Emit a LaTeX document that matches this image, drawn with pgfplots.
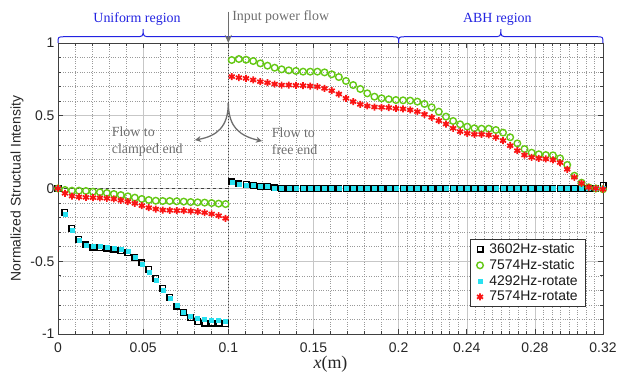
\documentclass[border=0pt]{standalone}
\usepackage{fontspec}
\setmainfont{Liberation Serif}
\setsansfont{Liberation Sans}
\usepackage{pgfplots}
\pgfplotsset{compat=1.18}
\usepackage{pgfplotstable}
\usetikzlibrary{arrows.meta}
\definecolor{cgreen}{RGB}{100,200,20}
\definecolor{ccyan}{RGB}{40,225,240}
\definecolor{cred}{RGB}{250,20,20}
\definecolor{cblue}{RGB}{35,35,225}
\definecolor{cgray}{RGB}{110,110,110}

\pgfplotstableread{
x a b c d
0.0000 0.000 0.000 0.000 0.000
0.0041 -0.164 -0.010 -0.178 -0.033
0.0082 -0.274 -0.015 -0.285 -0.052
0.0123 -0.349 -0.015 -0.354 -0.058
0.0164 -0.388 -0.017 -0.388 -0.061
0.0205 -0.404 -0.022 -0.400 -0.063
0.0246 -0.407 -0.026 -0.400 -0.065
0.0287 -0.411 -0.031 -0.404 -0.068
0.0328 -0.416 -0.038 -0.407 -0.072
0.0369 -0.427 -0.045 -0.416 -0.081
0.0410 -0.441 -0.054 -0.434 -0.090
0.0451 -0.473 -0.063 -0.475 -0.102
0.0492 -0.510 -0.072 -0.519 -0.118
0.0533 -0.556 -0.079 -0.572 -0.132
0.0574 -0.617 -0.084 -0.633 -0.141
0.0615 -0.686 -0.086 -0.698 -0.148
0.0656 -0.748 -0.086 -0.755 -0.150
0.0697 -0.808 -0.088 -0.805 -0.152
0.0738 -0.854 -0.090 -0.847 -0.152
0.0779 -0.888 -0.093 -0.876 -0.155
0.0820 -0.915 -0.095 -0.892 -0.159
0.0861 -0.927 -0.097 -0.899 -0.166
0.0902 -0.927 -0.100 -0.904 -0.175
0.0943 -0.927 -0.104 -0.904 -0.187
0.0984 -0.931 -0.107 -0.915 -0.205
}\tabL

\pgfplotstableread{
x a b c d
0.1020 0.045 0.883 0.042 0.769
0.1062 0.033 0.890 0.031 0.762
0.1104 0.027 0.885 0.026 0.757
0.1146 0.022 0.876 0.022 0.746
0.1188 0.017 0.860 0.017 0.734
0.1230 0.012 0.844 0.013 0.727
0.1272 0.005 0.830 0.003 0.718
0.1313 0.002 0.819 0.001 0.711
0.1355 0 0.812 0 0.711
0.1397 0 0.808 0 0.709
0.1439 0 0.803 0 0.707
0.1481 0 0.803 0 0.704
0.1523 0 0.803 0 0.700
0.1565 0 0.798 0 0.688
0.1607 0 0.785 0 0.672
0.1649 0 0.766 0 0.649
0.1691 0 0.739 0 0.620
0.1733 0 0.711 0 0.597
0.1775 0 0.684 0 0.578
0.1816 0 0.654 0 0.567
0.1858 0 0.631 0 0.560
0.1900 0 0.620 0 0.558
0.1942 0 0.613 0 0.556
0.1984 0 0.608 0 0.550
0.2026 0 0.606 0 0.547
0.2068 0 0.604 0 0.540
0.2110 0 0.597 0 0.528
0.2152 0 0.581 0 0.510
0.2194 0 0.558 0 0.489
0.2236 0 0.528 0 0.466
0.2278 0 0.494 0 0.443
0.2320 0 0.464 0 0.414
0.2361 0 0.441 0 0.391
0.2403 0 0.425 0 0.379
0.2445 0 0.414 0 0.372
0.2487 0 0.411 0 0.372
0.2529 0 0.411 0 0.368
0.2571 0 0.402 0 0.352
0.2613 0 0.384 0 0.329
0.2655 0 0.352 0 0.294
0.2697 0 0.310 0 0.260
0.2739 0 0.271 0 0.230
0.2781 0 0.246 0 0.214
0.2823 0 0.235 0 0.207
0.2864 0 0.230 0 0.203
0.2906 0 0.228 0 0.196
0.2948 0 0.207 0 0.178
0.2990 0 0.162 0 0.132
0.3032 0 0.088 0 0.077
0.3074 0 0.040 0 0.036
0.3116 0 0.008 0 0.008
0.3158 0 0.000 0 0.001
0.3200 0.020 -0.005 0 -0.005
}\tabR

\begin{document}
\begin{tikzpicture}
\begin{axis}[
  width=545bp, height=291bp, scale only axis,
  xmin=0, xmax=0.32, ymin=-1, ymax=1,
  xtick={0,0.05,0.1,0.15,0.2,0.24,0.28,0.32},
  xticklabels={0,0.05,0.1,0.15,0.2,0.24,0.28,0.32},
  ytick={-1,-0.5,0,0.5,1},
  yticklabels={-1,-0.5,0,0.5,1},
  minor xtick={0.01,0.02,0.03,0.04,0.06,0.07,0.08,0.09,0.11,0.12,0.13,0.14,0.16,0.17,0.18,0.19,0.205,0.21,0.215,0.22,0.225,0.23,0.235,0.245,0.25,0.255,0.26,0.265,0.27,0.275,0.285,0.29,0.295,0.3,0.305,0.31,0.315},
  minor ytick={-0.9,-0.8,-0.7,-0.6,-0.4,-0.3,-0.2,-0.1,0.1,0.2,0.3,0.4,0.6,0.7,0.8,0.9},
  grid=both,
  major grid style={black!22, line width=0.5bp},
  minor grid style={black!40, dotted, line width=0.5bp},
  tick align=inside,
  major tick length=5bp, minor tick length=3bp,
  axis line style={black!75, line width=0.7bp},
  tick style={black!75, line width=0.6bp},
  ticklabel style={font=\sffamily\fontsize{14}{16}\selectfont, text=black!85},
  xticklabel style={yshift=-5bp},
  xlabel={\textit{x}(m)},
  xlabel style={font=\rmfamily\fontsize{18}{20}\selectfont, text=black!85, yshift=3bp},
  ylabel={Normalized Structual Intensity},
  ylabel style={font=\sffamily\fontsize{14}{16}\selectfont, text=black!85},
  clip=false,
  legend style={at={(0.9688,0.0938)}, anchor=south east, draw=black!80, line width=0.6bp,
    font=\sffamily\fontsize{14}{15}\selectfont, text=black!90, inner xsep=6bp, inner ysep=2bp,
    row sep=0.5bp, column sep=4bp},
  legend cell align=left,
]
\draw[black!75, dashed, line width=0.8bp] (axis cs:0,0) -- (axis cs:0.1,0);
\draw[black!75, dotted, line width=0.9bp] (axis cs:0.1,-1) -- (axis cs:0.1,1);

\addplot[only marks, mark=square, mark size=2.8bp, mark options={draw=black, line width=1.4bp}] table[x=x,y=a]{\tabL};
\addlegendentry{3602Hz-static}
\addplot[forget plot, only marks, mark=square, mark size=2.8bp, mark options={draw=black, line width=1.4bp}] table[x=x,y=a]{\tabR};

\addplot[only marks, mark=o, mark size=3.3bp, mark options={draw=cgreen, line width=1.4bp}] table[x=x,y=b]{\tabL};
\addlegendentry{7574Hz-static}
\addplot[forget plot, only marks, mark=o, mark size=3.3bp, mark options={draw=cgreen, line width=1.4bp}] table[x=x,y=b]{\tabR};

\addplot[only marks, mark=square*, mark size=2.0bp, mark options={draw=ccyan, fill=ccyan, line width=0.4bp}] table[x=x,y=c]{\tabL};
\addlegendentry{4292Hz-rotate}
\addplot[forget plot, only marks, mark=square*, mark size=2.0bp, mark options={draw=ccyan, fill=ccyan, line width=0.4bp}] table[x=x,y=c]{\tabR};

\addplot[only marks, mark=asterisk, mark size=3.5bp, mark options={draw=cred, line width=1.7bp}] table[x=x,y=d]{\tabL};
\addlegendentry{7574Hz-rotate}
\addplot[forget plot, only marks, mark=asterisk, mark size=3.5bp, mark options={draw=cred, line width=1.7bp}] table[x=x,y=d]{\tabR};

% braces
\draw[cblue, line width=1bp] (axis cs:0,1) .. controls (axis cs:0,1.043) .. (axis cs:0.004,1.043)
  -- (axis cs:0.045,1.043) .. controls (axis cs:0.05,1.043) .. (axis cs:0.05,1.096)
  .. controls (axis cs:0.05,1.043) .. (axis cs:0.055,1.043)
  -- (axis cs:0.196,1.043) .. controls (axis cs:0.2,1.043) .. (axis cs:0.2,1.0);
\draw[cblue, line width=1bp] (axis cs:0.2,1) .. controls (axis cs:0.2,1.043) .. (axis cs:0.204,1.043)
  -- (axis cs:0.255,1.043) .. controls (axis cs:0.26,1.043) .. (axis cs:0.26,1.096)
  .. controls (axis cs:0.26,1.043) .. (axis cs:0.265,1.043)
  -- (axis cs:0.316,1.043) .. controls (axis cs:0.32,1.043) .. (axis cs:0.32,1.0);
\node[text=cblue, font=\rmfamily\fontsize{14}{16}\selectfont] at (axis cs:0.0464,1.165) {Uniform region};
\node[text=cblue, font=\rmfamily\fontsize{14}{16}\selectfont] at (axis cs:0.258,1.165) {ABH region};
% input power flow
\draw[cgray, line width=1.6bp, -{Stealth[length=8bp,width=7bp]}] (axis cs:0.1,1.215) -- (axis cs:0.1,1.0);
\node[text=cgray, anchor=west, inner sep=0pt, font=\rmfamily\fontsize{14}{16}\selectfont] at (axis cs:0.1022,1.18) {Input power flow};
% flow arrows
\draw[cgray, line width=1.3bp, -{Stealth[length=6bp,width=6bp]}] (axis cs:0.1,0.588) .. controls (axis cs:0.1,0.42) and (axis cs:0.093,0.36) .. (axis cs:0.0804,0.333);
\draw[cgray, line width=1.3bp, -{Stealth[length=6bp,width=6bp]}] (axis cs:0.1,0.588) .. controls (axis cs:0.1,0.42) and (axis cs:0.107,0.36) .. (axis cs:0.1198,0.326);
\node[text=cgray, anchor=west, align=left, inner sep=0pt, font=\rmfamily\fontsize{14}{17.3}\selectfont] at (axis cs:0.0315,0.324) {Flow to\\clamped end};
\node[text=cgray, anchor=west, align=left, inner sep=0pt, font=\rmfamily\fontsize{14}{17.3}\selectfont] at (axis cs:0.1255,0.324) {Flow to\\free end};
\end{axis}
\pgfresetboundingbox
\path[use as bounding box] (-58bp,-41bp) rectangle (560bp,334bp);
\end{tikzpicture}
\end{document}
